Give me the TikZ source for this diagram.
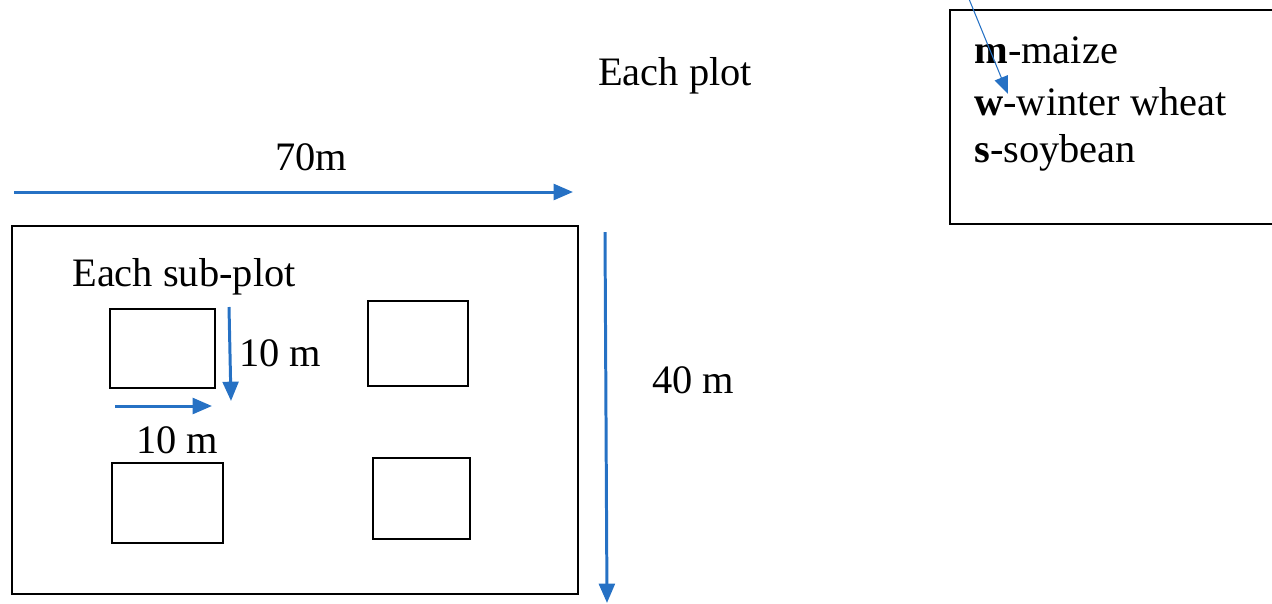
\documentclass[tikz,border=0pt]{standalone}
\usepackage{fontspec}
\setmainfont{Liberation Serif}
\usetikzlibrary{arrows.meta}
\definecolor{dimblue}{RGB}{38,113,196}
\begin{document}
\begin{tikzpicture}[x=0.02cm,y=-0.02cm,
  plotbox/.style={draw=black,line width=1.5pt},
  dimarrow/.style={draw=dimblue,line width=1.7pt,-{Triangle[length=11pt,width=9pt]}},
  thinarrow/.style={draw=dimblue,line width=0.6pt,-{Triangle[length=10pt,width=8pt]}},
  lbl/.style={font=\fontsize{23}{27}\selectfont,inner sep=0pt}]
\useasboundingbox (0,0) rectangle (1272,603);
% big plot
\draw[plotbox] (12,226) rectangle (578,594);
% subplots
\draw[plotbox] (110,309) rectangle (215,388);
\draw[plotbox] (368,301) rectangle (468,386);
\draw[plotbox] (112,463) rectangle (223,543);
\draw[plotbox] (373,458) rectangle (470,539);
% legend box
\draw[plotbox] (950,10) rectangle (1280,224);
% coordinates
\coordinate (ta) at (14,192); \coordinate (tb) at (573,192);
\coordinate (ra) at (605,232); \coordinate (rb) at (607,603);
\coordinate (va) at (229,307); \coordinate (vb) at (231,401);
\coordinate (ha) at (115,406); \coordinate (hb) at (212,406);
\coordinate (la) at (969,-1); \coordinate (lb) at (1008,94);
\draw[dimarrow] (ta) -- (tb);
\draw[dimarrow] (ra) -- (rb);
\draw[dimarrow] (va) -- (vb);
\draw[dimarrow] (ha) -- (hb);
% labels
\node[lbl] (l70) at (311,157) {70m};
\node[lbl] (l40) at (693,380) {40 m};
\node[lbl] (each) at (675,76) {Each plot};
\node[lbl] (sub) at (184,277) {Each sub-plot};
\node[lbl] (v10) at (280,353) {10 m};
\node[lbl] (h10) at (177,440) {10 m};
\node[lbl,anchor=west] (m) at (974,50) {\textbf{m}-maize};
\node[lbl,anchor=west] (w) at (974,102) {\textbf{w}-winter wheat};
\node[lbl,anchor=west] (s) at (974,153) {\textbf{s}-soybean};
\draw[thinarrow] (la) -- (lb);
\end{tikzpicture}
\end{document}
